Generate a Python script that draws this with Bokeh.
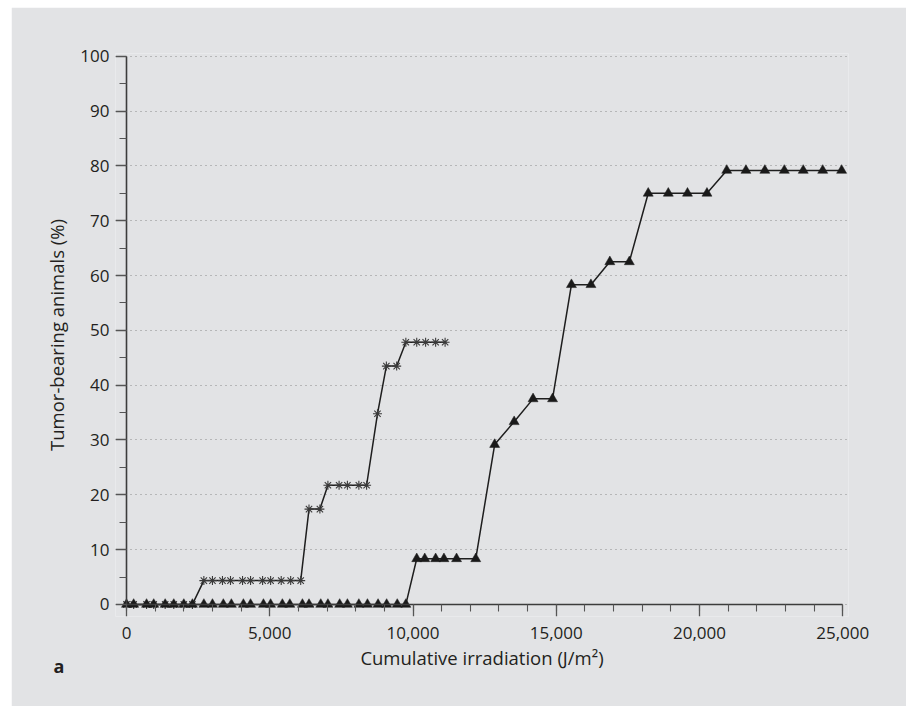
from bokeh.plotting import figure
from bokeh.models import (Range1d, SingleIntervalTicker, NumeralTickFormatter,
                          ColumnDataSource, Label, LinearAxis, Grid)
from bokeh.embed import file_html
from bokeh.resources import INLINE

# ---- data ----
star_x = [0, 250, 700, 950, 1350, 1650, 2000, 2300,
          2700, 3000, 3350, 3630, 4050, 4330, 4750, 5030, 5400, 5730, 6080,
          6370, 6750,
          7030, 7420, 7710, 8110, 8380,
          8760,
          9070, 9430,
          9750, 10130, 10440, 10790, 11120]
star_y = [0, 0, 0, 0, 0, 0, 0, 0,
          4.35, 4.35, 4.35, 4.35, 4.35, 4.35, 4.35, 4.35, 4.35, 4.35, 4.35,
          17.39, 17.39,
          21.74, 21.74, 21.74, 21.74, 21.74,
          34.78,
          43.48, 43.48,
          47.83, 47.83, 47.83, 47.83, 47.83]

tri_x = [0, 250, 700, 950, 1350, 1650, 2000, 2300,
         2700, 3000, 3380, 3660, 4080, 4330, 4780, 5030, 5440, 5700, 6140,
         6370, 6780, 7030, 7440, 7710, 8110, 8410, 8780, 9080, 9450, 9750,
         10130, 10410, 10790, 11080, 11520, 12190,
         12850,
         13530,
         14190, 14870,
         15530, 16210,
         16870, 17550,
         18210, 18910, 19580, 20260,
         20950, 21620, 22280, 22960, 23620, 24300, 24960]
tri_y = [0, 0, 0, 0, 0, 0, 0, 0,
         0, 0, 0, 0, 0, 0, 0, 0, 0, 0, 0,
         0, 0, 0, 0, 0, 0, 0, 0, 0, 0, 0,
         8.33, 8.33, 8.33, 8.33, 8.33, 8.33,
         29.17,
         33.33,
         37.5, 37.5,
         58.33, 58.33,
         62.5, 62.5,
         75.0, 75.0, 75.0, 75.0,
         79.17, 79.17, 79.17, 79.17, 79.17, 79.17, 79.17]

x_label = "Cumulative irradiation (J/m\u00b2)"
y_label = "Tumor-bearing animals (%)"
panel_label = "a"

BG = "#e2e3e5"
TXT = "#231f20"
FONT = "Open Sans"

p = figure(width=895, height=699, output_backend="svg", toolbar_location=None,
           x_range=Range1d(-384, 25200), y_range=Range1d(-2.2, 100.5),
           x_axis_type=None, y_axis_type=None,
           min_border_left=104, min_border_right=58,
           min_border_top=46, min_border_bottom=90)
p.margin = (7, 0, 0, 11)
p.background_fill_color = BG
p.border_fill_color = BG
p.outline_line_color = None

x_ticker = SingleIntervalTicker(interval=5000, num_minor_ticks=5)
y_ticker = SingleIntervalTicker(interval=10, num_minor_ticks=2)

# label axes at the frame edge (text only)
xl = LinearAxis(ticker=x_ticker, formatter=NumeralTickFormatter(format="0,0"),
                axis_label=x_label)
yl = LinearAxis(ticker=y_ticker, axis_label=y_label)
for ax in (xl, yl):
    ax.axis_line_color = None
    ax.major_tick_line_color = None
    ax.minor_tick_line_color = None
    ax.major_tick_in = 0
    ax.major_tick_out = 0
    ax.minor_tick_in = 0
    ax.minor_tick_out = 0
    ax.major_label_text_font = FONT
    ax.major_label_text_font_size = "17px"
    ax.major_label_text_color = TXT
    ax.axis_label_text_font = FONT
    ax.axis_label_text_font_size = "18.5px"
    ax.axis_label_text_font_style = "normal"
    ax.axis_label_text_color = TXT
xl.major_label_standoff = 10
yl.major_label_standoff = 6
xl.axis_label_standoff = 3
yl.axis_label_standoff = 8
p.add_layout(xl, "below")
p.add_layout(yl, "left")

# line/tick axes placed through the origin
xa = LinearAxis(ticker=x_ticker, bounds=(0, 25000), fixed_location=0)
ya = LinearAxis(ticker=y_ticker, bounds=(0, 100), fixed_location=0)
for ax in (xa, ya):
    ax.axis_line_color = "#3c3c3c"
    ax.axis_line_width = 1.6
    ax.major_tick_line_color = "#555555"
    ax.minor_tick_line_color = "#555555"
    ax.major_tick_line_width = 1.3
    ax.minor_tick_line_width = 1.1
    ax.major_tick_in = 0
    ax.minor_tick_in = 0
    ax.minor_tick_out = 7
    ax.major_label_text_alpha = 0
    ax.major_label_text_font_size = "1px"
    ax.major_label_standoff = 0
xa.major_tick_out = 12
ya.major_tick_out = 11
p.add_layout(xa, "below")
p.add_layout(ya, "left")

# grid
g = Grid(dimension=1, ticker=SingleIntervalTicker(interval=10),
         grid_line_color="#8a8a8a", grid_line_width=1.2, grid_line_dash="1 4")
p.add_layout(g)

# series
src_star = ColumnDataSource(dict(x=star_x, y=star_y))
src_tri = ColumnDataSource(dict(x=tri_x, y=tri_y))

p.line("x", "y", source=src_star, line_color="#1e1e1e", line_width=1.5)
p.scatter("x", "y", source=src_star, marker="asterisk", size=9,
          line_color="#3a3a3a", line_width=1.1)
p.line("x", "y", source=src_tri, line_color="#1e1e1e", line_width=1.5)
p.scatter("x", "y", source=src_tri, marker="triangle", size=10,
          fill_color="#1a1a1a", line_color="#1a1a1a", line_width=0.5)

# panel letter: placed in a side panel so that it is not clipped to the frame
p.add_layout(Label(x=-2550, y=-11.3, text=panel_label, text_font=FONT,
                   text_font_size="18px", text_font_style="bold",
                   text_color=TXT, text_baseline="alphabetic", text_align="left"),
             "right")

open("out.html", "w").write(file_html(p, INLINE))
